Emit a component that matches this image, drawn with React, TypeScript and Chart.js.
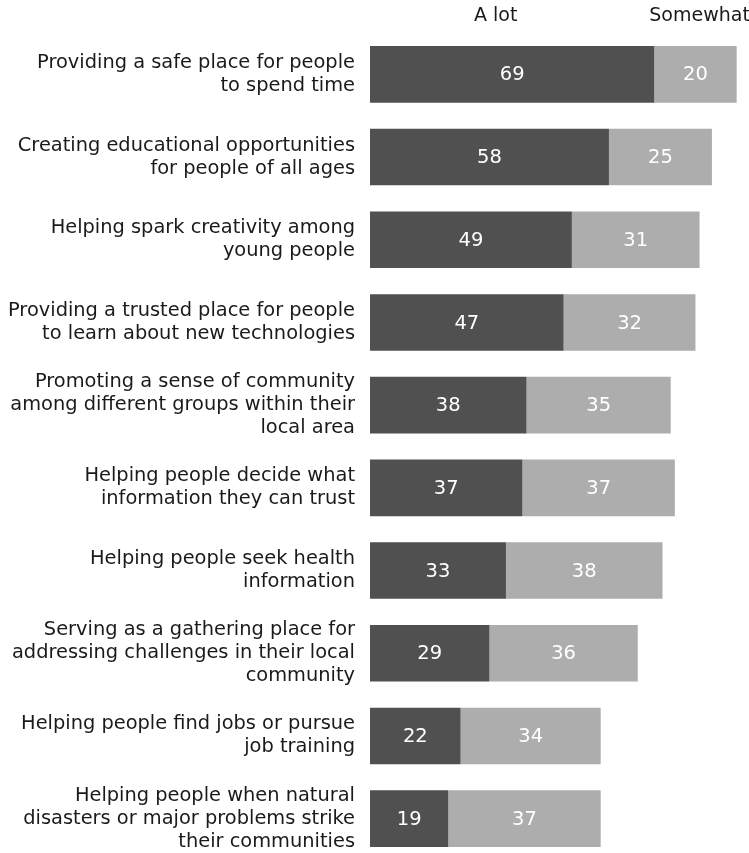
import React, { useEffect, useRef } from 'react';
import { Chart, registerables } from 'chart.js';

Chart.register(...registerables);

const categories: string[][] = [
  ['Providing a safe place for people', 'to spend time'],
  ['Creating educational opportunities', 'for people of all ages'],
  ['Helping spark creativity among', 'young people'],
  ['Providing a trusted place for people', 'to learn about new technologies'],
  ['Promoting a sense of community', 'among different groups within their', 'local area'],
  ['Helping people decide what', 'information they can trust'],
  ['Helping people seek health', 'information'],
  ['Serving as a gathering place for', 'addressing challenges in their local', 'community'],
  ['Helping people find jobs or pursue', 'job training'],
  ['Helping people when natural', 'disasters or major problems strike', 'their communities'],
];

const aLot: number[] = [69, 58, 49, 47, 38, 37, 33, 29, 22, 19];
const somewhat: number[] = [20, 25, 31, 32, 35, 37, 38, 36, 34, 37];
const seriesNames: string[] = ['A lot', 'Somewhat'];
// x-axis values at which the column headers are centred
const headerAt: number[] = [30.5, 80];
const xMax = 92;

const FONT = "'DejaVu Sans', sans-serif";

const valueLabels = {
  id: 'valueLabels',
  afterDatasetsDraw(chart: any) {
    const ctx = chart.ctx;
    ctx.save();
    ctx.font = `19.5px ${FONT}`;
    ctx.fillStyle = '#ffffff';
    ctx.textAlign = 'center';
    ctx.textBaseline = 'middle';
    chart.data.datasets.forEach((ds: any, i: number) => {
      const meta = chart.getDatasetMeta(i);
      meta.data.forEach((el: any, j: number) => {
        const p = el.getProps(['x', 'y', 'base'], true);
        ctx.fillText(String(ds.data[j]), (p.x + p.base) / 2, p.y + 1);
      });
    });
    ctx.restore();
  },
};

const categoryLabels = {
  id: 'categoryLabels',
  afterDraw(chart: any) {
    const ctx = chart.ctx;
    const ys = chart.scales.y;
    const lineH = 23;
    ctx.save();
    ctx.font = `19.4px ${FONT}`;
    ctx.fillStyle = '#1a1a1a';
    ctx.textAlign = 'right';
    ctx.textBaseline = 'middle';
    const x = chart.chartArea.left - 15;
    (chart.data.labels as string[][]).forEach((lines, i) => {
      const yc = ys.getPixelForTick(i);
      const y0 = yc - ((lines.length - 1) * lineH) / 2;
      lines.forEach((ln, k) => ctx.fillText(ln, x, y0 + k * lineH));
    });
    ctx.restore();
  },
};

const headers = {
  id: 'headers',
  afterDraw(chart: any) {
    const ctx = chart.ctx;
    const xs = chart.scales.x;
    ctx.save();
    ctx.font = `19px ${FONT}`;
    ctx.fillStyle = '#1a1a1a';
    ctx.textAlign = 'center';
    ctx.textBaseline = 'middle';
    seriesNames.forEach((n, i) => {
      ctx.fillText(n, xs.getPixelForValue(headerAt[i]), 16);
    });
    ctx.restore();
  },
};

export default function App() {
  const ref = useRef<HTMLCanvasElement>(null);
  useEffect(() => {
    if (!ref.current) return;
    const chart = new Chart(ref.current, {
      type: 'bar',
      data: {
        labels: categories,
        datasets: [
          {
            label: seriesNames[0],
            data: aLot,
            backgroundColor: '#505050',
            barPercentage: 0.685,
            categoryPercentage: 1,
          },
          {
            label: seriesNames[1],
            data: somewhat,
            backgroundColor: '#adadad',
            barPercentage: 0.685,
            categoryPercentage: 1,
          },
        ],
      },
      options: {
        indexAxis: 'y',
        responsive: false,
        animation: false,
        layout: { padding: { top: 33, left: 0, right: 0, bottom: 0 } },
        plugins: {
          legend: { display: false },
          tooltip: { enabled: false },
        },
        scales: {
          x: {
            stacked: true,
            display: false,
            min: 0,
            max: xMax,
          },
          y: {
            stacked: true,
            grid: { display: false, drawTicks: false },
            border: { display: false },
            ticks: { display: false, autoSkip: false },
            afterFit(scale: any) {
              scale.width = 370;
            },
          },
        },
      },
      plugins: [valueLabels, categoryLabels, headers],
    });
    return () => chart.destroy();
  }, []);

  return (
    <div style={{ position: 'absolute', left: 0, top: 0, width: 749, height: 853, overflow: 'hidden', background: '#fff' }}>
      <canvas ref={ref} width={749} height={860} style={{ display: 'block' }} />
    </div>
  );
}
